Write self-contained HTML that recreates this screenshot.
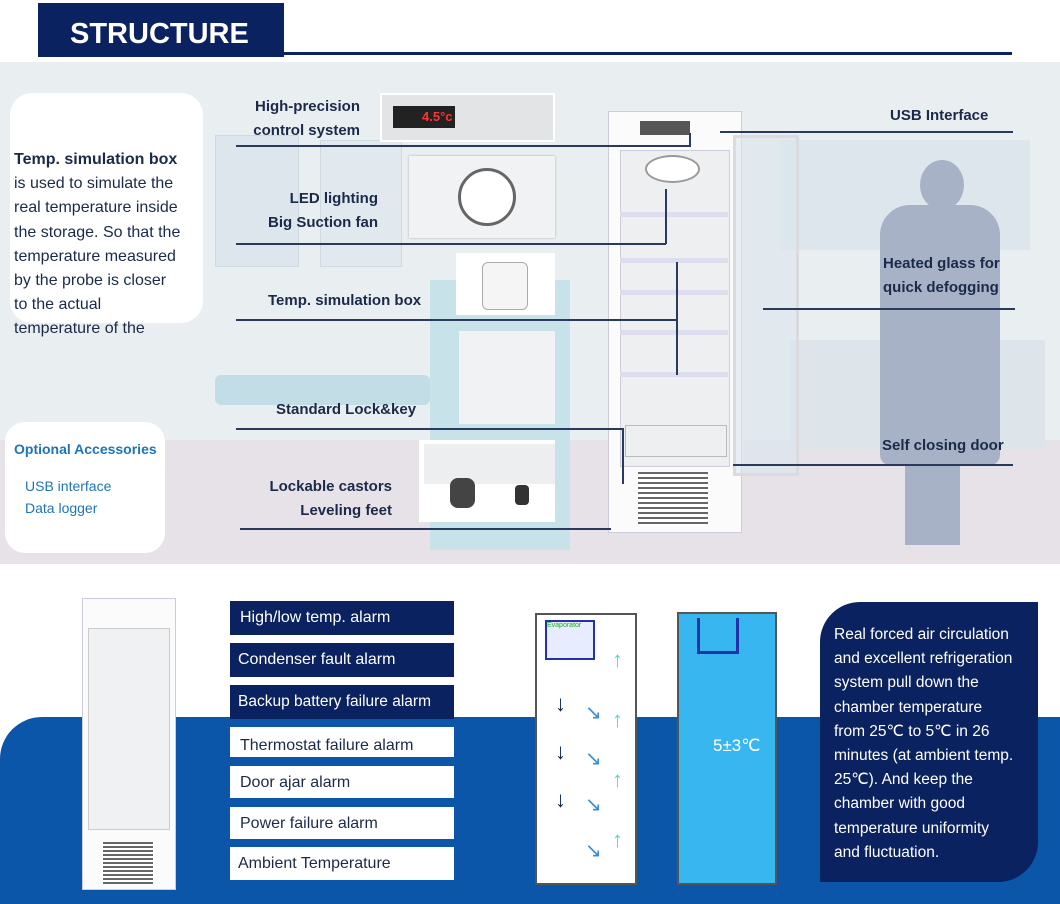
<!DOCTYPE html>
<html><head><meta charset="utf-8"><style>
body{margin:0;width:1060px;height:904px;position:relative;overflow:hidden;background:#fff;font-family:"Liberation Sans",sans-serif}
.a{position:absolute}
.lbl{position:absolute;font-weight:bold;color:#1b2a4a;font-size:15px;line-height:24px;white-space:nowrap}
.ln{position:absolute;background:#2a3a5c;height:2px}
.vl{position:absolute;background:#2a3a5c;width:2px}
.alarm{position:absolute;left:230px;width:224px;font-size:16px;line-height:33px;padding-left:10px;box-sizing:border-box}
.dk{background:#0b2260;color:#fff}
.wt{background:#fff;color:#1b2a4a}
</style></head><body>
<div class="a" style="left:38px;top:3px;width:246px;height:54px;background:#0b2260;color:#fff;font-weight:bold;font-size:29px;line-height:62px;padding-left:32px;box-sizing:border-box">STRUCTURE</div>
<div class="a" style="left:284px;top:52px;width:728px;height:3px;background:#0b2260"></div>
<div class="a" style="left:0;top:62px;width:1060px;height:502px;background:#e9eef1"></div>
<div class="a" style="left:0;top:440px;width:1060px;height:124px;background:#e6e2e8"></div>
<div class="a" style="left:215px;top:135px;width:82px;height:130px;background:#dde6ec;border:1px solid #cfd9e0"></div>
<div class="a" style="left:320px;top:140px;width:80px;height:125px;background:#e2e9ee;border:1px solid #cfd9e0"></div>
<div class="a" style="left:430px;top:280px;width:140px;height:270px;background:#c8e2ea"></div>
<div class="a" style="left:215px;top:375px;width:215px;height:30px;background:#c3dde6;border-radius:6px"></div>
<div class="a" style="left:780px;top:140px;width:250px;height:110px;background:#dde6ec"></div>
<div class="a" style="left:790px;top:340px;width:255px;height:110px;background:#dde4ea"></div>
<div class="a" style="left:920px;top:160px;width:44px;height:50px;border-radius:50%;background:#a7b2c6"></div>
<div class="a" style="left:880px;top:205px;width:120px;height:260px;background:#a7b2c6;border-radius:30px 30px 10px 10px"></div>
<div class="a" style="left:905px;top:455px;width:55px;height:90px;background:#a7b2c6"></div>
<div class="a" style="left:10px;top:93px;width:193px;height:230px;background:#fff;border-radius:22px"></div>
<div class="a" style="left:14px;top:148px;font-size:16px;line-height:24.2px;color:#1b2a4a;width:200px"><b>Temp. simulation box</b><br>is used to simulate the<br>real temperature inside<br>the storage. So that the<br>temperature measured<br>by the probe is closer<br>to the actual<br>temperature of the</div>
<div class="a" style="left:5px;top:422px;width:160px;height:131px;background:#fff;border-radius:20px"></div>
<div class="a" style="left:14px;top:441px;font-size:14px;font-weight:bold;color:#1f74b8">Optional Accessories</div>
<div class="a" style="left:25px;top:475px;font-size:14px;line-height:22px;color:#1f74b8">USB interface<br>Data logger</div>
<div class="a" style="left:380px;top:93px;width:175px;height:49px;background:#e2e4e6;border:2px solid #fff;box-sizing:border-box"></div>
<div class="a" style="left:393px;top:106px;width:62px;height:22px;background:#222"></div>
<div class="a" style="left:422px;top:109px;color:#f33;font-size:13px;font-weight:bold">4.5°c</div>
<div class="a" style="left:409px;top:156px;width:146px;height:82px;background:#f0f2f4;box-shadow:0 0 2px #aaa"></div>
<div class="a" style="left:458px;top:168px;width:58px;height:58px;border-radius:50%;border:3px solid #666;background:#fff;box-sizing:border-box"></div>
<div class="a" style="left:456px;top:253px;width:99px;height:62px;background:#fff"></div>
<div class="a" style="left:482px;top:262px;width:44px;height:46px;border:1px solid #aaa;border-radius:6px;background:#f5f5f5"></div>
<div class="a" style="left:459px;top:331px;width:96px;height:93px;background:#f1f2f3"></div>
<div class="a" style="left:419px;top:440px;width:136px;height:82px;background:#fff"></div>
<div class="a" style="left:424px;top:444px;width:131px;height:40px;background:#eceeef"></div>
<div class="a" style="left:450px;top:478px;width:25px;height:30px;background:#444;border-radius:8px"></div>
<div class="a" style="left:515px;top:485px;width:14px;height:20px;background:#333;border-radius:4px"></div>
<div class="a" style="left:608px;top:111px;width:132px;height:420px;background:#fbfbfb;border:1px solid #ccd"></div>
<div class="a" style="left:640px;top:121px;width:50px;height:14px;background:#555"></div>
<div class="a" style="left:620px;top:150px;width:108px;height:315px;background:#eeeff1;border:1px solid #ccd"></div>
<div class="a" style="left:645px;top:155px;width:55px;height:28px;border-radius:50%;background:#fff;border:2px solid #999;box-sizing:border-box"></div>
<div class="a" style="left:620px;top:212px;width:108px;height:5px;background:#dde"></div>
<div class="a" style="left:620px;top:258px;width:108px;height:5px;background:#dde"></div>
<div class="a" style="left:620px;top:290px;width:108px;height:5px;background:#dde"></div>
<div class="a" style="left:620px;top:330px;width:108px;height:5px;background:#dde"></div>
<div class="a" style="left:620px;top:372px;width:108px;height:5px;background:#dde"></div>
<div class="a" style="left:625px;top:425px;width:100px;height:30px;border:1px solid #bbb"></div>
<div class="a" style="left:638px;top:472px;width:70px;height:55px;background:repeating-linear-gradient(#666 0 2px,#fff 2px 5px)"></div>
<div class="a" style="left:733px;top:135px;width:66px;height:341px;border:3px solid #d9dbdf;background:rgba(220,230,238,.6);box-sizing:border-box"></div>
<div class="lbl" style="left:245px;top:95px;text-align:right;width:115px">High-precision<br>control system</div>
<div class="lbl" style="left:258px;top:187px;text-align:right;width:120px">LED lighting<br>Big Suction fan</div>
<div class="lbl" style="left:268px;top:289px">Temp. simulation box</div>
<div class="lbl" style="left:276px;top:398px">Standard Lock&amp;key</div>
<div class="lbl" style="left:258px;top:475px;text-align:right;width:134px">Lockable castors<br>Leveling feet</div>
<div class="lbl" style="left:890px;top:104px">USB Interface</div>
<div class="lbl" style="left:883px;top:252px">Heated glass for<br>quick defogging</div>
<div class="lbl" style="left:882px;top:434px">Self closing door</div>
<div class="ln" style="left:236px;top:145px;width:454px"></div>
<div class="vl" style="left:689px;top:133px;height:14px"></div>
<div class="ln" style="left:236px;top:243px;width:430px"></div>
<div class="vl" style="left:665px;top:189px;height:55px"></div>
<div class="ln" style="left:236px;top:319px;width:441px"></div>
<div class="vl" style="left:676px;top:262px;height:113px"></div>
<div class="ln" style="left:236px;top:428px;width:388px"></div>
<div class="vl" style="left:622px;top:428px;height:56px"></div>
<div class="ln" style="left:240px;top:528px;width:371px"></div>
<div class="ln" style="left:720px;top:131px;width:293px"></div>
<div class="ln" style="left:763px;top:308px;width:252px"></div>
<div class="ln" style="left:733px;top:464px;width:280px"></div>
<div class="a" style="left:0;top:717px;width:1060px;height:187px;background:#0b56a8;border-radius:42px 0 0 0"></div>
<div class="a" style="left:82px;top:598px;width:92px;height:290px;background:#fbfbfb;border:1px solid #ccd"></div>
<div class="a" style="left:88px;top:628px;width:80px;height:200px;background:#f0f1f3;border:1px solid #ccc"></div>
<div class="a" style="left:103px;top:842px;width:50px;height:42px;background:repeating-linear-gradient(#666 0 2px,#fff 2px 4px)"></div>
<div class="alarm dk" style="top:601px;height:34px">High/low temp. alarm</div>
<div class="alarm dk" style="top:643px;height:34px;padding-left:8px">Condenser fault alarm</div>
<div class="alarm dk" style="top:685px;height:34px;padding-left:8px;font-size:15.5px;white-space:nowrap">Backup battery failure alarm</div>
<div class="alarm wt" style="top:727px;height:30px;line-height:38px">Thermostat failure alarm</div>
<div class="alarm wt" style="top:766px;height:32px">Door ajar alarm</div>
<div class="alarm wt" style="top:807px;height:32px">Power failure alarm</div>
<div class="alarm wt" style="top:847px;height:33px;padding-left:8px">Ambient Temperature</div>
<div class="a" style="left:535px;top:613px;width:102px;height:272px;background:#fff;border:2px solid #555;box-sizing:border-box"></div>
<div class="a" style="left:545px;top:620px;width:50px;height:40px;border:2px solid #2233aa;background:#e8ecff;box-sizing:border-box;font-size:7px;color:#2a2">Evaporator</div>
<div class="a" style="left:555px;top:680px;color:#0b2260;font-size:22px;line-height:48px">↓<br>↓<br>↓</div>
<div class="a" style="left:585px;top:690px;color:#3a8bd6;font-size:20px;line-height:46px">↘<br>↘<br>↘<br>↘</div>
<div class="a" style="left:612px;top:630px;color:#6cc;font-size:22px;line-height:60px">↑<br>↑<br>↑<br>↑</div>
<div class="a" style="left:677px;top:612px;width:100px;height:273px;background:#37b6f0;border:2px solid #555;box-sizing:border-box"></div>
<div class="a" style="left:697px;top:618px;width:42px;height:36px;border:3px solid #2233aa;border-top:none;box-sizing:border-box"></div>
<div class="a" style="left:713px;top:736px;color:#fff;font-size:17px">5±3℃</div>
<div class="a" style="left:820px;top:602px;width:218px;height:280px;background:#0b2260;border-radius:40px 0 40px 0"></div>
<div class="a" style="left:834px;top:623px;color:#fff;font-size:15.5px;line-height:24.2px;white-space:nowrap">Real forced air circulation<br>and excellent refrigeration<br>system pull down the<br>chamber temperature<br>from 25℃ to 5℃ in 26<br>minutes (at ambient temp.<br>25℃). And keep the<br>chamber with good<br>temperature uniformity<br>and fluctuation.</div>
</body></html>
